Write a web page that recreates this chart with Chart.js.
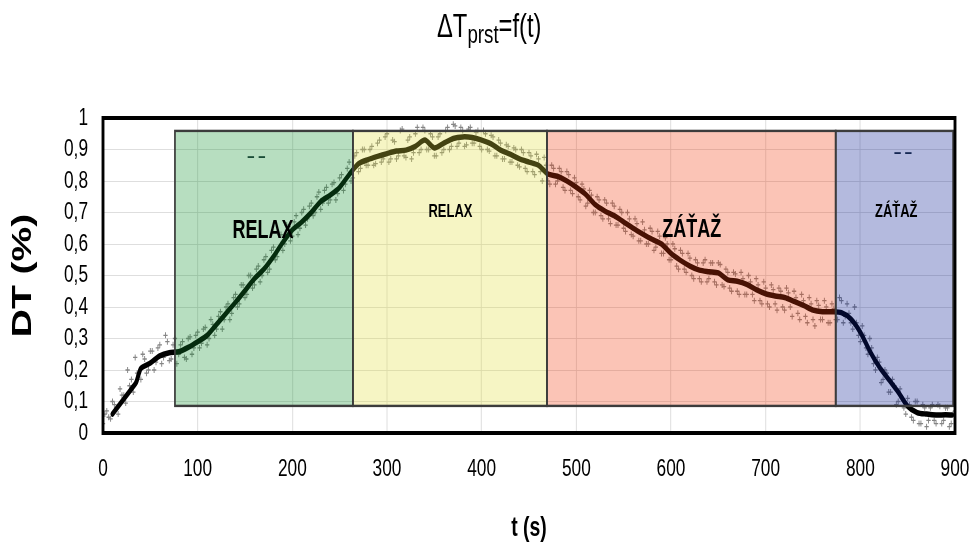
<!DOCTYPE html>
<html>
<head>
<meta charset="utf-8">
<script src="https://cdn.jsdelivr.net/npm/chart.js@4.4.1/dist/chart.umd.min.js"></script>
<style>
  html, body { margin: 0; padding: 0; background: #fff; }
  #wrap { width: 972px; height: 548px; overflow: hidden; position: relative; }
  canvas { display: block; }
</style>
</head>
<body>
<div id="wrap"><canvas id="c" width="1350" height="548"></canvas></div>
<script>
// Smoothed temperature difference (black curve)
const lineTime = [10, 20, 30, 35, 40, 50, 60, 70, 80, 90, 100, 110, 120, 130, 140, 150, 160, 170, 180, 190,
  200, 210, 220, 230, 240, 250, 260, 270, 280, 290, 300, 310, 320, 330, 340, 350, 360, 370, 380, 390,
  400, 410, 420, 430, 440, 450, 460, 470, 480, 490, 500, 510, 520, 530, 540, 550, 560, 570, 580, 590,
  600, 610, 620, 630, 640, 650, 660, 670, 680, 690, 700, 710, 720, 730, 740, 750, 760, 770, 780, 790,
  800, 810, 820, 830, 840, 850, 860, 870, 880, 890, 897];
const lineValue = [0.06, 0.10, 0.14, 0.16, 0.205, 0.222, 0.245, 0.255, 0.258, 0.272, 0.29, 0.31, 0.345, 0.38, 0.415, 0.452, 0.49, 0.52, 0.56, 0.605,
  0.645, 0.67, 0.70, 0.735, 0.755, 0.78, 0.82, 0.855, 0.868, 0.878, 0.887, 0.895, 0.898, 0.91, 0.93, 0.905, 0.92, 0.935, 0.94, 0.938,
  0.93, 0.918, 0.898, 0.885, 0.87, 0.86, 0.85, 0.822, 0.815, 0.80, 0.78, 0.757, 0.725, 0.705, 0.69, 0.67, 0.65, 0.632, 0.615, 0.60,
  0.57, 0.548, 0.53, 0.517, 0.512, 0.508, 0.486, 0.482, 0.472, 0.455, 0.442, 0.435, 0.43, 0.418, 0.405, 0.39, 0.385, 0.385, 0.382, 0.362,
  0.32, 0.26, 0.21, 0.17, 0.13, 0.085, 0.065, 0.06, 0.057, 0.058, 0.057];

// Raw samples, every 4 s starting at 0 s
const sampleA = [0.03, 0.07, 0.045, 0.09, 0.06, 0.12, 0.095, 0.15, 0.13, 0.19,
  0.17, 0.235, 0.2, 0.26, 0.225, 0.28, 0.24, 0.29, 0.235, 0.3,
  0.25, 0.29, 0.235, 0.305, 0.27, 0.32, 0.285, 0.335, 0.3, 0.345,
  0.33, 0.385, 0.36, 0.41, 0.38, 0.44, 0.41, 0.47, 0.44, 0.5,
  0.47, 0.53, 0.5, 0.56, 0.52, 0.59, 0.56, 0.63, 0.6, 0.655,
  0.625, 0.69, 0.65, 0.71, 0.68, 0.73, 0.7, 0.765, 0.73, 0.78,
  0.74, 0.795, 0.76, 0.82, 0.79, 0.86, 0.81, 0.89, 0.84, 0.9,
  0.85, 0.91, 0.855, 0.93, 0.87, 0.95, 0.87, 0.925, 0.88, 0.965,
  0.875, 0.94, 0.89, 0.97, 0.9, 0.96, 0.9, 0.94, 0.88, 0.95,
  0.9, 0.97, 0.91, 0.975, 0.92, 0.96, 0.915, 0.97, 0.92, 0.96,
  0.9, 0.95, 0.895, 0.94, 0.88, 0.92, 0.87, 0.91, 0.86, 0.9,
  0.845, 0.89, 0.83, 0.88, 0.82, 0.87, 0.8, 0.85, 0.79, 0.84,
  0.8, 0.83, 0.77, 0.82, 0.76, 0.795, 0.74, 0.775, 0.73, 0.755,
  0.7, 0.74, 0.68, 0.73, 0.665, 0.72, 0.66, 0.7, 0.64, 0.68,
  0.625, 0.665, 0.61, 0.645, 0.6, 0.64, 0.59, 0.625, 0.57, 0.6,
  0.55, 0.585, 0.52, 0.57, 0.51, 0.555, 0.49, 0.54, 0.48, 0.55,
  0.49, 0.54, 0.47, 0.535, 0.465, 0.51, 0.45, 0.505, 0.44, 0.49,
  0.44, 0.48, 0.42, 0.47, 0.41, 0.46, 0.4, 0.455, 0.39, 0.45,
  0.39, 0.445, 0.37, 0.43, 0.36, 0.42, 0.35, 0.41, 0.34, 0.405,
  0.36, 0.4, 0.35, 0.395, 0.36, 0.42, 0.37, 0.38, 0.33, 0.35,
  0.29, 0.31, 0.25, 0.27, 0.2, 0.225, 0.17, 0.19, 0.13, 0.15,
  0.1, 0.11, 0.06, 0.09, 0.04, 0.1, 0.03, 0.08, 0.04, 0.09,
  0.03, 0.085, 0.04, 0.08, 0.03, 0.07];

// Raw samples, every 4 s starting at 2 s
const sampleB = [0.06, 0.05, 0.1, 0.08, 0.14, 0.12, 0.2, 0.17, 0.24, 0.19,
  0.25, 0.19, 0.26, 0.2, 0.27, 0.22, 0.31, 0.23, 0.28, 0.22,
  0.28, 0.24, 0.3, 0.25, 0.31, 0.27, 0.33, 0.28, 0.36, 0.31,
  0.37, 0.33, 0.4, 0.36, 0.43, 0.4, 0.47, 0.43, 0.5, 0.46,
  0.52, 0.48, 0.55, 0.51, 0.58, 0.55, 0.63, 0.58, 0.66, 0.61,
  0.67, 0.63, 0.7, 0.66, 0.72, 0.69, 0.75, 0.71, 0.77, 0.73,
  0.79, 0.74, 0.81, 0.77, 0.84, 0.8, 0.88, 0.83, 0.9, 0.85,
  0.9, 0.85, 0.92, 0.86, 0.94, 0.86, 0.93, 0.87, 0.96, 0.88,
  0.93, 0.87, 0.95, 0.89, 0.97, 0.9, 0.95, 0.88, 0.94, 0.89,
  0.96, 0.9, 0.98, 0.91, 0.97, 0.91, 0.965, 0.92, 0.955, 0.91,
  0.96, 0.9, 0.945, 0.88, 0.93, 0.87, 0.915, 0.86, 0.905, 0.85,
  0.9, 0.84, 0.89, 0.83, 0.885, 0.83, 0.875, 0.8, 0.85, 0.79,
  0.84, 0.78, 0.83, 0.77, 0.81, 0.75, 0.79, 0.72, 0.77, 0.7,
  0.75, 0.69, 0.74, 0.68, 0.73, 0.66, 0.71, 0.65, 0.7, 0.63,
  0.68, 0.61, 0.67, 0.6, 0.65, 0.58, 0.64, 0.57, 0.62, 0.55,
  0.6, 0.53, 0.58, 0.52, 0.57, 0.5, 0.55, 0.49, 0.54, 0.48,
  0.54, 0.48, 0.54, 0.47, 0.52, 0.46, 0.51, 0.45, 0.51, 0.44,
  0.5, 0.44, 0.49, 0.42, 0.48, 0.41, 0.47, 0.41, 0.46, 0.4,
  0.46, 0.4, 0.45, 0.38, 0.44, 0.37, 0.43, 0.36, 0.42, 0.36,
  0.42, 0.35, 0.41, 0.36, 0.43, 0.35, 0.41, 0.35, 0.4, 0.31,
  0.34, 0.27, 0.3, 0.22, 0.24, 0.16, 0.2, 0.13, 0.17, 0.09,
  0.14, 0.08, 0.11, 0.05, 0.1, 0.03, 0.09, 0.02, 0.08, 0.04,
  0.09, 0.03, 0.08, 0.02, 0.06];

// Phases of the measurement
const zoneEdges = [76, 264, 469, 774, 898];   // s
const zoneRange = [0.086, 0.959];             // DT band covered by the phase boxes
const zoneNames = ['RELAX', 'RELAX', 'ZÁŤAŽ', 'ZÁŤAŽ'];

const xTickValues = [0, 100, 200, 300, 400, 500, 600, 700, 800, 900];
const yTickValues = [0, 0.1, 0.2, 0.3, 0.4, 0.5, 0.6, 0.7, 0.8, 0.9, 1];

// ---- presentation ----
const S = 0.72;                 // horizontal squeeze applied to the whole drawing
const FONT = "'Liberation Sans', Arial, sans-serif";
const zoneFill = ['rgba(15,145,48,0.3)', 'rgba(225,222,58,0.3)', 'rgba(242,58,12,0.3)', 'rgba(5,25,145,0.3)'];
const zoneLabelAt = [{ t: 169, v: 0.641, size: 25 }, { t: 367, v: 0.70, size: 18 },
                     { t: 622, v: 0.644, size: 25 }, { t: 838, v: 0.70, size: 18 }];
const noteAt = [{ t: 162, v: 0.876 }, { t: 845, v: 0.889 }];

const points = [];
sampleA.forEach((v, i) => points.push({ x: i * 4, y: v }));
sampleB.forEach((v, i) => points.push({ x: i * 4 + 2, y: v }));
const curve = lineTime.map((t, i) => ({ x: t, y: lineValue[i] }));

const phasePlugin = {
  id: 'phases',
  beforeDraw(chart) {
    const ctx = chart.ctx;
    ctx.save();
    ctx.setTransform(S, 0, 0, 1, 0, 0);
  },
  afterDatasetsDraw(chart) {
    const ctx = chart.ctx, xs = chart.scales.x, ys = chart.scales.y;
    const yT = ys.getPixelForValue(zoneRange[1]);
    const yB = ys.getPixelForValue(zoneRange[0]);
    ctx.save();
    // small marks sitting under the boxes
    ctx.fillStyle = '#1e2f3a';
    ctx.font = 'bold 18px ' + FONT;
    ctx.textAlign = 'center';
    ctx.textBaseline = 'middle';
    noteAt.forEach(n => ctx.fillText('– –', xs.getPixelForValue(n.t), ys.getPixelForValue(n.v)));
    // translucent phase boxes
    for (let i = 0; i < zoneNames.length; i++) {
      const x0 = xs.getPixelForValue(zoneEdges[i]);
      const x1 = xs.getPixelForValue(zoneEdges[i + 1]);
      ctx.fillStyle = zoneFill[i];
      ctx.fillRect(x0, yT, x1 - x0, yB - yT);
    }
    ctx.strokeStyle = '#3c3c3c';
    ctx.lineWidth = 2.4;
    for (let i = 0; i < zoneNames.length; i++) {
      const x0 = xs.getPixelForValue(zoneEdges[i]);
      const x1 = xs.getPixelForValue(zoneEdges[i + 1]);
      ctx.strokeRect(x0, yT, x1 - x0, yB - yT);
    }
    // phase names
    ctx.fillStyle = '#000';
    zoneNames.forEach((name, i) => {
      const p = zoneLabelAt[i];
      ctx.font = 'bold ' + p.size + 'px ' + FONT;
      ctx.fillText(name, xs.getPixelForValue(p.t), ys.getPixelForValue(p.v));
    });
    ctx.restore();
  },
  afterDraw(chart) {
    const ctx = chart.ctx, a = chart.chartArea;
    // plot frame
    ctx.save();
    ctx.strokeStyle = '#000';
    ctx.lineWidth = 4;
    ctx.strokeRect(a.left, a.top, a.right - a.left, a.bottom - a.top);
    // title  ΔT_prst = f(t)
    ctx.fillStyle = '#000';
    ctx.textAlign = 'left';
    ctx.textBaseline = 'alphabetic';
    let x = 437 / S;
    const base = 37;
    ctx.font = '33px ' + FONT;
    ctx.fillText('ΔT', x, base);
    x += ctx.measureText('ΔT').width;
    ctx.font = '26px ' + FONT;
    ctx.fillText('prst', x, base + 6);
    x += ctx.measureText('prst').width;
    ctx.font = '33px ' + FONT;
    ctx.fillText('=f(t)', x, base);
    ctx.restore();
    ctx.restore();
  }
};

new Chart(document.getElementById('c'), {
  type: 'scatter',
  data: {
    datasets: [
      {
        type: 'line',
        label: 'DT',
        data: curve,
        borderColor: '#000',
        borderWidth: 5.5,
        pointRadius: 0,
        tension: 0.25,
        borderJoinStyle: 'round',
        borderCapStyle: 'round',
        order: 0
      },
      {
        label: 'DT raw',
        data: points,
        pointStyle: 'cross',
        pointRadius: 3,
        borderWidth: 1.3,
        borderColor: '#858585',
        backgroundColor: '#858585',
        order: 1
      }
    ]
  },
  options: {
    responsive: false,
    animation: false,
    devicePixelRatio: 1,
    events: [],
    layout: { padding: { left: 0, right: 17 / S, top: 118, bottom: 0 } },
    plugins: { legend: { display: false }, title: { display: false }, tooltip: { enabled: false } },
    scales: {
      x: {
        type: 'linear',
        min: 0, max: 900,
        afterBuildTicks(scale) { scale.ticks = xTickValues.map(v => ({ value: v })); },
        afterFit(scale) { scale.height = 115; scale.paddingLeft = 0; scale.paddingRight = 0; },
        grid: { color: '#d9d9d9', lineWidth: 1, drawTicks: false },
        border: { display: false },
        ticks: { color: '#000', font: { family: FONT, size: 24 }, padding: 22, maxRotation: 0, autoSkip: false },
        title: { display: true, text: 't (s)', color: '#000', font: { family: FONT, size: 27, weight: 'bold' }, padding: { top: 0, bottom: 3 } }
      },
      y: {
        min: 0, max: 1,
        afterBuildTicks(scale) { scale.ticks = yTickValues.map(v => ({ value: v })); },
        afterFit(scale) { scale.width = 103 / S; scale.paddingTop = 0; scale.paddingBottom = 0; },
        grid: { color: '#d9d9d9', lineWidth: 1, drawTicks: false },
        border: { display: false },
        ticks: {
          color: '#000',
          font: { family: FONT, size: 24 },
          padding: 15 / S,
          autoSkip: false,
          callback: v => String(Math.round(v * 10) / 10).replace('.', ',')
        },
        title: { display: true, text: 'DT (%)', color: '#000', font: { family: FONT, size: 39, weight: 'bold' }, padding: { top: 9, bottom: 0 } }
      }
    }
  },
  plugins: [phasePlugin]
});
</script>
</body>
</html>
